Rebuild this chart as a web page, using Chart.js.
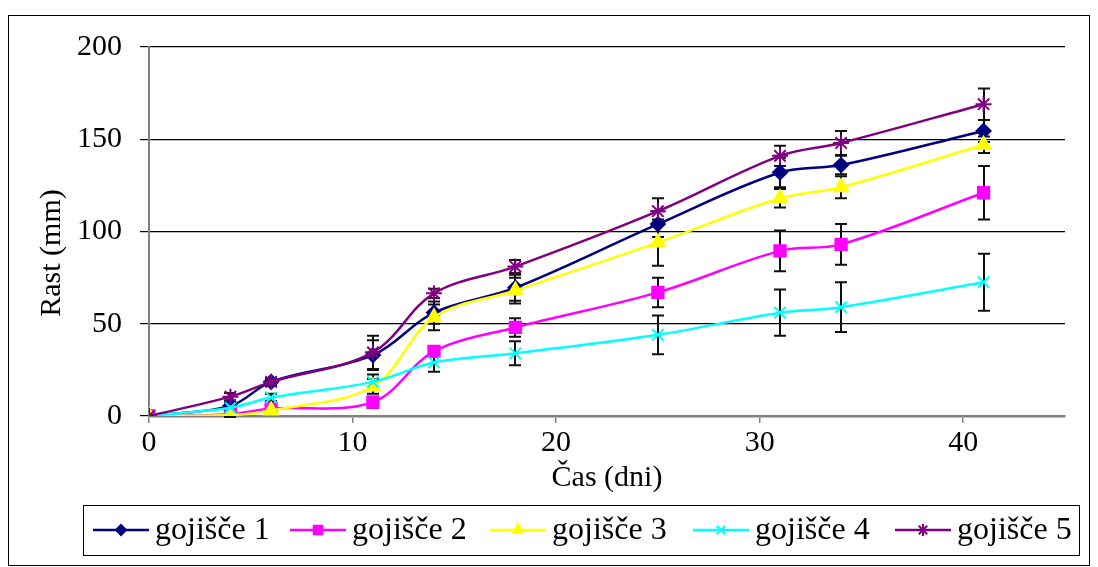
<!DOCTYPE html>
<html>
<head>
<meta charset="utf-8">
<script src="https://cdn.jsdelivr.net/npm/chart.js@4.4.0/dist/chart.umd.min.js"></script>
<style>
  html, body { margin: 0; padding: 0; background: #fff; }
  #wrap { width: 1098px; height: 567px; position: relative; }
</style>
</head>
<body>
<div id="wrap"><canvas id="rast"></canvas></div>
<script>
'use strict';

// ─── podatki ──────────────────────────────────────────────
const days = [0, 4, 6, 11, 14, 18, 25, 31, 34, 41];

const g1    = [0, 5.5, 18.5, 33, 56, 69.5, 104, 132, 136, 154.5];
const g1Err = [0, 2, 2, 8, 6, 7, 7, 8, 5, 6];
const g2    = [0, 1, 4, 7.5, 35, 48, 67, 89.5, 93, 121];
const g2Err = [0, 1, 1, 3, 3, 5, 8, 11, 11, 14.5];
const g3    = [0, 0.5, 3, 16, 53.5, 68, 94, 118, 124, 147];
const g3Err = [0, 1, 1, 4, 7, 7, 12.5, 5, 6, 4.5];
const g4    = [0, 4.5, 10, 18.5, 29, 34, 44, 56, 59, 72.5];
const g4Err = [0, 2, 2, 4, 5, 6.5, 10.5, 12.5, 13.5, 15.5];
const g5    = [0, 10.5, 18.5, 34.5, 66.5, 81, 111, 141, 148, 169];
const g5Err = [0, 2, 2, 9, 2.5, 3.5, 7, 5.5, 6.5, 8.5];

const seriesNames = ['gojišče 1', 'gojišče 2', 'gojišče 3', 'gojišče 4', 'gojišče 5'];
const xTicks = [0, 10, 20, 30, 40];
const yTicks = [0, 50, 100, 150, 200];
const xTitle = 'Čas (dni)';
const yTitle = 'Rast (mm)';

// ─── izgled ───────────────────────────────────────────────
const FONT = "'Liberation Serif', 'Times New Roman', serif";
const SERIES = [
  { data: g1, err: g1Err, color: '#000080', style: 'rectRot',  r: 7 },
  { data: g2, err: g2Err, color: '#ff00ff', style: 'rect',     r: 8 },
  { data: g3, err: g3Err, color: '#ffff00', style: 'triangle', r: 8 },
  { data: g4, err: g4Err, color: '#00ffff', style: 'crossRot', r: 8 },
  { data: g5, err: g5Err, color: '#800080', style: 'star',     r: 8 }
];

// napake (odkloni) – pod črtami
const errorBars = {
  id: 'errorBars',
  beforeDatasetsDraw(chart) {
    const { ctx, scales: { x, y } } = chart;
    ctx.save();
    ctx.strokeStyle = '#111';
    ctx.lineWidth = 2;
    SERIES.forEach(s => {
      s.data.forEach((v, i) => {
        const e = s.err[i];
        if (!e) return;
        const px = Math.round(x.getPixelForValue(days[i]));
        const yt = y.getPixelForValue(v + e);
        const yb = y.getPixelForValue(v - e);
        ctx.beginPath();
        ctx.moveTo(px, yt); ctx.lineTo(px, yb);
        ctx.moveTo(px - 6, yt); ctx.lineTo(px + 6, yt);
        ctx.moveTo(px - 6, yb); ctx.lineTo(px + 6, yb);
        ctx.stroke();
      });
    });
    ctx.restore();
  }
};

// okvir, naslov y osi in legenda
const frameLegend = {
  id: 'frameLegend',
  afterDraw(chart) {
    const { ctx } = chart;
    ctx.save();
    ctx.strokeStyle = '#000';
    ctx.lineWidth = 1;
    ctx.strokeRect(8.5, 15.5, 1081, 550);

    // naslov y osi
    ctx.fillStyle = '#000';
    ctx.font = '30px ' + FONT;
    ctx.textAlign = 'center';
    ctx.textBaseline = 'middle';
    ctx.translate(52, 253);
    ctx.rotate(-Math.PI / 2);
    ctx.fillText(yTitle, 0, 0);
    ctx.setTransform(1, 0, 0, 1, 0, 0);

    // legenda
    ctx.strokeStyle = '#000';
    ctx.lineWidth = 1;
    ctx.strokeRect(83.5, 505.5, 996, 50);
    const lineX = [93, 290, 490, 693, 895];
    const cy = 530;
    ctx.font = '32px ' + FONT;
    ctx.textAlign = 'left';
    SERIES.forEach((s, i) => {
      const x0 = lineX[i];
      ctx.strokeStyle = s.color;
      ctx.fillStyle = s.color;
      ctx.lineWidth = 2.5;
      ctx.beginPath();
      ctx.moveTo(x0, cy); ctx.lineTo(x0 + 56, cy);
      ctx.stroke();
      ctx.lineWidth = 2;
      Chart.helpers.drawPoint(ctx, {
        pointStyle: s.style, radius: s.r - 2, borderWidth: 2
      }, x0 + 28, cy);
      ctx.fillStyle = '#000';
      ctx.fillText(seriesNames[i], x0 + 62, cy + 1);
    });
    ctx.restore();
  }
};

const datasets = SERIES.map((s, i) => ({
  label: seriesNames[i],
  data: days.map((d, j) => ({ x: d, y: s.data[j] })),
  borderColor: s.color,
  backgroundColor: s.color,
  pointStyle: s.style,
  pointRadius: s.r,
  pointBorderWidth: 2,
  pointBorderColor: s.color,
  pointBackgroundColor: s.color,
  borderWidth: 2.5,
  tension: 0.35,
  fill: false,
  order: SERIES.length - i
}));

new Chart(document.getElementById('rast'), {
  type: 'line',
  data: { datasets },
  plugins: [errorBars, frameLegend],
  options: {
    responsive: true,
    maintainAspectRatio: false,
    animation: false,
    layout: { padding: { left: 0, top: 47, right: 33, bottom: 71 } },
    plugins: {
      legend: { display: false },
      tooltip: { enabled: false }
    },
    scales: {
      x: {
        type: 'linear',
        min: 0, max: 45,
        afterBuildTicks: sc => { sc.ticks = xTicks.map(v => ({ value: v })); },
        afterFit: sc => { sc.height = 80; },
        grid: { drawOnChartArea: false, color: '#808080', tickLength: 7, lineWidth: 1.5 },
        border: { color: '#808080', width: 2.5 },
        ticks: { color: '#000', font: { family: FONT, size: 30 }, padding: 2, maxRotation: 0 },
        title: { display: true, text: xTitle, color: '#000', font: { family: FONT, size: 30 }, padding: { top: 0, bottom: 0 } }
      },
      y: {
        min: 0, max: 200,
        afterBuildTicks: sc => { sc.ticks = yTicks.map(v => ({ value: v })); },
        afterFit: sc => { sc.width = 149; },
        grid: { color: '#000', lineWidth: 1.2, tickLength: 9, drawTicks: true },
        border: { color: '#808080', width: 2 },
        ticks: { color: '#000', font: { family: FONT, size: 30 }, padding: 18 }
      }
    }
  }
});
</script>
</body>
</html>
